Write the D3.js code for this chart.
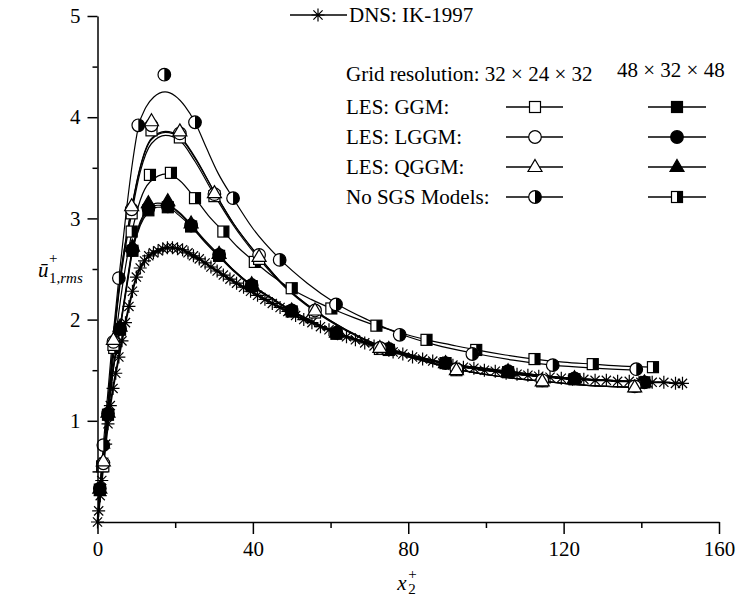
<!DOCTYPE html>
<html>
<head>
<meta charset="utf-8">
<script src="https://cdn.jsdelivr.net/npm/d3@7"></script>
<style>
  body { margin: 0; background: #fff; }
  svg { display: block; font-family: "Liberation Serif", "Times New Roman", serif; }
  svg text { font-family: "Liberation Serif", "Times New Roman", serif; }
</style>
</head>
<body>
<script>
// DNS: IK-1997 (points of the DNS grid)
const dnsX = [0, 0.3, 0.7, 1.1, 1.6, 2.1, 2.7, 3.3, 4.0, 4.7, 5.5, 6.3, 7.2, 8.1, 9.0, 10.0, 11.0, 12.1, 13.2, 14.4,
  15.6, 16.8, 18.0, 19.3, 20.6, 21.9, 23.3, 24.7, 26.2, 27.7, 29.2, 30.8, 32.4, 34.1, 35.8, 37.6, 39.4, 41.2, 43.1, 45.0,
  47.0, 49.0, 51.0, 53.1, 55.2, 57.4, 59.6, 61.8, 64.1, 66.4, 68.8, 71.2, 73.6, 76.1, 78.6, 81.1, 83.7, 86.3, 88.9, 91.5,
  94.2, 96.9, 99.6, 102.4, 105.2, 108.0, 110.8, 113.6, 116.5, 119.4, 122.3, 125.2, 128.1, 131.0, 133.9, 136.9, 139.9,
  142.8, 145.8, 148.8, 150.6];
const dnsY = [0, 0.11, 0.26, 0.41, 0.59, 0.77, 0.97, 1.15, 1.32, 1.47, 1.63, 1.79, 1.97, 2.13, 2.28, 2.42, 2.51, 2.58, 2.63, 2.66,
  2.68, 2.70, 2.71, 2.71, 2.70, 2.69, 2.66, 2.63, 2.60, 2.56, 2.52, 2.48, 2.44, 2.40, 2.36, 2.32, 2.28, 2.24, 2.20, 2.16,
  2.12, 2.08, 2.04, 2.00, 1.97, 1.93, 1.90, 1.86, 1.83, 1.80, 1.77, 1.74, 1.71, 1.68, 1.66, 1.63, 1.61, 1.59, 1.57, 1.55,
  1.53, 1.52, 1.50, 1.49, 1.47, 1.46, 1.45, 1.44, 1.43, 1.42, 1.41, 1.41, 1.40, 1.40, 1.39, 1.39, 1.38,
  1.38, 1.38, 1.37, 1.37];

// LES markers, grid 32 x 24 x 32
const x32 = [1.5, 4.1, 8.8, 13.9, 21.2, 30.1, 41.6, 56, 72.7, 92.4, 114.5, 138.3];
const ggm32 = [0.55, 1.75, 3.05, 3.87, 3.80, 3.22, 2.60, 2.07, 1.71, 1.50, 1.39, 1.34];
const lggm32 = [0.58, 1.78, 3.09, 3.92, 3.84, 3.24, 2.64, 2.09, 1.72, 1.51, 1.40, 1.34];
const qggm32 = [0.60, 1.80, 3.12, 3.96, 3.86, 3.25, 2.62, 2.09, 1.72, 1.50, 1.39, 1.33];
const xNo32 = [1.5, 5.5, 10.5, 17.2, 25.1, 34.9, 46.9, 61.4, 77.8, 96.5, 117.2, 138.7];
const no32 = [0.76, 2.41, 3.92, 4.42, 3.95, 3.20, 2.59, 2.15, 1.85, 1.66, 1.55, 1.51];

// LES markers, grid 48 x 32 x 48
const x48 = [0.6, 2.7, 5.8, 9.0, 13.1, 18.1, 24.1, 31.3, 39.7, 50.0, 61.5, 75.0, 89.6, 105.7, 122.8, 140.8];
const ggm48 = [0.32, 1.06, 1.90, 2.68, 3.08, 3.11, 2.92, 2.63, 2.33, 2.08, 1.86, 1.70, 1.57, 1.48, 1.41, 1.38];
const lggm48 = [0.33, 1.07, 1.91, 2.69, 3.10, 3.12, 2.93, 2.64, 2.34, 2.09, 1.87, 1.71, 1.57, 1.49, 1.42, 1.38];
const qggm48 = [0.33, 1.08, 1.93, 2.72, 3.15, 3.17, 2.95, 2.65, 2.35, 2.09, 1.87, 1.71, 1.57, 1.49, 1.42, 1.38];
const xNo48 = [1.2, 4.3, 8.8, 13.5, 18.9, 25.1, 32.4, 40.5, 50, 60.2, 71.8, 84.7, 97.5, 112.5, 127.5, 143];
const no48 = [0.55, 1.72, 2.87, 3.43, 3.45, 3.20, 2.87, 2.57, 2.31, 2.11, 1.94, 1.80, 1.70, 1.61, 1.56, 1.53];

// Smooth fitted curves drawn through the LES data
const fit32X = [0, 1.5, 2.5, 4.1, 6, 8.8, 11, 13.9, 17.5, 21.2, 25, 30.1, 35, 41.6, 48, 56, 64, 72.7, 82, 92.4, 103, 114.5, 126, 138.3];
const fitGgm32 = [0, 0.58, 1.03, 1.75, 2.41, 3.05, 3.46, 3.74, 3.82, 3.77, 3.57, 3.23, 2.93, 2.60, 2.33, 2.08, 1.89, 1.73, 1.61, 1.51, 1.44, 1.39, 1.35, 1.33];
const fitLggm32 = [0, 0.60, 1.06, 1.78, 2.45, 3.10, 3.50, 3.78, 3.85, 3.80, 3.60, 3.26, 2.95, 2.62, 2.34, 2.09, 1.90, 1.74, 1.62, 1.51, 1.44, 1.39, 1.35, 1.33];
const fitQggm32 = [0, 0.61, 1.07, 1.79, 2.46, 3.11, 3.51, 3.79, 3.86, 3.81, 3.61, 3.26, 2.95, 2.62, 2.34, 2.09, 1.90, 1.74, 1.62, 1.51, 1.44, 1.39, 1.35, 1.33];
const fitNo32X = [0, 1.5, 3.5, 5.5, 7.5, 9, 10.5, 12.5, 14.5, 17.4, 20, 22.5, 25.1, 28, 31, 34.9, 40, 46.9, 54, 61.4, 70, 77.8, 87, 96.5, 107, 117.2, 128, 138.7];
const fitNo32 = [0, 0.76, 1.65, 2.41, 3.10, 3.55, 3.90, 4.10, 4.20, 4.25, 4.21, 4.11, 3.95, 3.70, 3.45, 3.20, 2.90, 2.60, 2.36, 2.16, 1.99, 1.86, 1.75, 1.67, 1.60, 1.55, 1.52, 1.50];

const fit48X = [0, 0.6, 1.5, 2.7, 4, 5.8, 7.5, 9, 11, 13.1, 15.5, 18, 21, 24.1, 27.5, 31.3, 35, 39.7, 45, 50, 55, 61.5, 68, 75, 82, 89.6, 97, 105.7, 114, 122.8, 131, 140.8];
const fitGgm48 = [0, 0.32, 0.64, 1.06, 1.48, 1.90, 2.31, 2.67, 2.93, 3.06, 3.11, 3.11, 3.03, 2.92, 2.77, 2.62, 2.48, 2.33, 2.20, 2.08, 1.98, 1.86, 1.78, 1.70, 1.63, 1.57, 1.53, 1.48, 1.45, 1.41, 1.40, 1.38];
const fitLggm48 = [0, 0.33, 0.65, 1.07, 1.50, 1.92, 2.33, 2.69, 2.95, 3.08, 3.13, 3.13, 3.05, 2.93, 2.78, 2.63, 2.49, 2.34, 2.21, 2.09, 1.99, 1.87, 1.79, 1.71, 1.64, 1.57, 1.53, 1.49, 1.45, 1.42, 1.40, 1.38];
const fitQggm48 = [0, 0.33, 0.66, 1.08, 1.51, 1.93, 2.35, 2.71, 2.97, 3.10, 3.15, 3.14, 3.06, 2.94, 2.79, 2.64, 2.49, 2.34, 2.21, 2.09, 1.99, 1.87, 1.79, 1.71, 1.64, 1.57, 1.53, 1.49, 1.45, 1.42, 1.40, 1.38];
const fitNo48X = [0, 1.2, 2.5, 4.3, 6.5, 8.8, 11, 13.5, 17.8, 21, 25.1, 28.5, 32.4, 36, 40.5, 45, 50, 55, 60.2, 66, 71.8, 78, 84.7, 91, 97.5, 105, 112.5, 120, 127.5, 135, 143];
const fitNo48 = [0, 0.50, 1.05, 1.70, 2.35, 2.85, 3.18, 3.36, 3.44, 3.38, 3.20, 3.03, 2.87, 2.72, 2.57, 2.43, 2.30, 2.20, 2.11, 2.02, 1.94, 1.87, 1.80, 1.75, 1.70, 1.65, 1.61, 1.58, 1.56, 1.54, 1.53];

// Axis ticks
const xTicks = [0, 40, 80, 120, 160];
const xMinorTicks = [20, 60, 100, 140];
const yTicks = [1, 2, 3, 4, 5];
const yMinorTicks = [0.5, 1.5, 2.5, 3.5, 4.5];

// Legend texts
const legendRows = ["LES: GGM:", "LES: LGGM:", "LES: QGGM:", "No SGS Models:"];
const gridLabels = ["Grid resolution: 32 \u00d7 24 \u00d7 32", "48 \u00d7 32 \u00d7 48"];
const dnsLabel = "DNS: IK-1997";

const width = 737;
const height = 596;
const serif = "'Liberation Serif', 'Times New Roman', serif";

const x = d3.scaleLinear().domain([0, 160]).range([97.5, 719]);
const y = d3.scaleLinear().domain([0, 5]).range([522, 16]);

const svg = d3.select("body").append("svg")
  .attr("width", width)
  .attr("height", height)
  .attr("viewBox", [0, 0, width, height])
  .attr("font-family", serif);

const zip = (xs, ys) => xs.map((v, i) => [v, ys[i]]);

// marker shapes, centred on 0,0
function marker(g, shape, fill) {
  const stroke = "#000";
  if (shape === "asterisk") {
    g.append("path")
      .attr("d", "M-6.5,0H6.5M0,-6.5V6.5M-4.6,-4.6L4.6,4.6M-4.6,4.6L4.6,-4.6")
      .attr("stroke", stroke).attr("stroke-width", 1.2).attr("fill", "none");
  } else if (shape === "square") {
    g.append("rect").attr("x", -5.5).attr("y", -5.5).attr("width", 11).attr("height", 11)
      .attr("fill", fill).attr("stroke", stroke).attr("stroke-width", 1.2);
  } else if (shape === "circle") {
    g.append("circle").attr("r", 6.3)
      .attr("fill", fill).attr("stroke", stroke).attr("stroke-width", 1.2);
  } else if (shape === "triangle") {
    g.append("path").attr("d", "M0,-7.5L7,4.5L-7,4.5Z")
      .attr("fill", fill).attr("stroke", stroke).attr("stroke-width", 1.2);
  } else if (shape === "halfCircle") {
    g.append("circle").attr("r", 6.3)
      .attr("fill", "#fff").attr("stroke", stroke).attr("stroke-width", 1.2);
    g.append("path").attr("d", "M0,-6.3A6.3,6.3 0 0 1 0,6.3Z").attr("fill", stroke);
  } else if (shape === "halfSquare") {
    g.append("rect").attr("x", -5.5).attr("y", -5.5).attr("width", 11).attr("height", 11)
      .attr("fill", "#fff").attr("stroke", stroke).attr("stroke-width", 1.2);
    g.append("rect").attr("x", 0).attr("y", -5.5).attr("width", 5.5).attr("height", 11).attr("fill", stroke);
  }
}

const line = d3.line()
  .x(d => x(d[0]))
  .y(d => y(d[1]))
  .curve(d3.curveMonotoneX);

const series = [
  { px: x48, py: ggm48, fx: fit48X, fy: fitGgm48, shape: "square", fill: "#000" },
  { px: x48, py: lggm48, fx: fit48X, fy: fitLggm48, shape: "circle", fill: "#000" },
  { px: x48, py: qggm48, fx: fit48X, fy: fitQggm48, shape: "triangle", fill: "#000" },
  { px: xNo48, py: no48, fx: fitNo48X, fy: fitNo48, shape: "halfSquare", fill: "#fff" },
  { px: x32, py: ggm32, fx: fit32X, fy: fitGgm32, shape: "square", fill: "#fff" },
  { px: x32, py: lggm32, fx: fit32X, fy: fitLggm32, shape: "circle", fill: "#fff" },
  { px: x32, py: qggm32, fx: fit32X, fy: fitQggm32, shape: "triangle", fill: "#fff" },
  { px: xNo32, py: no32, fx: fitNo32X, fy: fitNo32, shape: "halfCircle", fill: "#fff" }
];

// DNS line with asterisks
const dns = zip(dnsX, dnsY);
svg.append("path")
  .attr("d", line(dns))
  .attr("fill", "none").attr("stroke", "#000").attr("stroke-width", 2);
svg.append("g").selectAll("g")
  .data(dns)
  .join("g")
  .attr("transform", d => `translate(${x(d[0])},${y(d[1])})`)
  .each(function() { marker(d3.select(this), "asterisk"); });

// LES curves first, then the markers on top
series.forEach(s => {
  svg.append("path")
    .attr("d", line(zip(s.fx, s.fy)))
    .attr("fill", "none").attr("stroke", "#000").attr("stroke-width", 1.2);
});
series.forEach(s => {
  svg.append("g").selectAll("g")
    .data(zip(s.px, s.py))
    .join("g")
    .attr("transform", d => `translate(${x(d[0])},${y(d[1])})`)
    .each(function() { marker(d3.select(this), s.shape, s.fill); });
});

// Axes
const fontSize = 21;
svg.append("g")
  .attr("transform", `translate(0,${y(0)})`)
  .call(d3.axisBottom(x).tickValues(xTicks).tickSize(12).tickPadding(7).tickSizeOuter(0).tickFormat(d3.format("d")));
svg.append("g")
  .attr("transform", `translate(0,${y(0)})`)
  .call(d3.axisBottom(x).tickValues(xMinorTicks).tickSize(6).tickFormat(() => ""))
  .call(g => g.select(".domain").remove());

svg.append("g")
  .attr("transform", `translate(${x(0)},0)`)
  .call(d3.axisLeft(y).tickValues(yTicks).tickSize(10).tickPadding(7).tickSizeOuter(0).tickFormat(d3.format("d")));
svg.append("g")
  .attr("transform", `translate(${x(0)},0)`)
  .call(d3.axisLeft(y).tickValues(yMinorTicks).tickSize(5).tickFormat(() => ""))
  .call(g => g.select(".domain").remove());

svg.selectAll(".domain, .tick line").attr("stroke", "#000").attr("stroke-width", 1.5);
svg.selectAll("g").filter(function() { return this.hasAttribute("font-family"); })
  .attr("font-family", serif)
  .attr("font-size", fontSize);
svg.selectAll(".tick text").attr("fill", "#000");

// Axis titles
const xt = svg.append("g").attr("transform", `translate(${x(80)},0)`);
xt.append("text").attr("x", -11).attr("y", 590).attr("font-style", "italic")
  .attr("font-size", fontSize).text("x");
xt.append("text").attr("x", 0).attr("y", 579).attr("font-size", 15).text("+");
xt.append("text").attr("x", 0).attr("y", 594).attr("font-size", 15).text("2");

const yt = svg.append("g");
yt.append("text").attr("x", 38).attr("y", 277).attr("font-style", "italic")
  .attr("font-size", fontSize).text("\u016b");
yt.append("text").attr("x", 49).attr("y", 263).attr("font-size", 15).text("+");
yt.append("text").attr("x", 49).attr("y", 283).attr("font-size", 15)
  .call(t => t.append("tspan").text("1,"))
  .call(t => t.append("tspan").attr("font-style", "italic").text("rms"));

// Legend
const lg = svg.append("g").attr("font-size", fontSize);
lg.append("line").attr("x1", 290).attr("x2", 347).attr("y1", 15).attr("y2", 15)
  .attr("stroke", "#000").attr("stroke-width", 1.3);
marker(lg.append("g").attr("transform", "translate(318,15)"), "asterisk");
lg.append("text").attr("x", 349).attr("y", 22).text(dnsLabel);

lg.append("text").attr("x", 346).attr("y", 81).text(gridLabels[0]);
lg.append("text").attr("x", 617).attr("y", 77).text(gridLabels[1]);

const legendShapes = [
  [series[4], series[0]],
  [series[5], series[1]],
  [series[6], series[2]],
  [series[7], series[3]]
];
legendRows.forEach((label, i) => {
  const base = 114 + i * 30;
  const cy = base - 7;
  lg.append("text").attr("x", 346).attr("y", base).text(label);
  [[506, 563, 535], [648, 706, 677]].forEach(([x1, x2, cx], j) => {
    lg.append("line").attr("x1", x1).attr("x2", x2).attr("y1", cy).attr("y2", cy)
      .attr("stroke", "#000").attr("stroke-width", 1.3);
    const s = legendShapes[i][j];
    marker(lg.append("g").attr("transform", `translate(${cx},${cy})`), s.shape, s.fill);
  });
});
</script>
</body>
</html>
